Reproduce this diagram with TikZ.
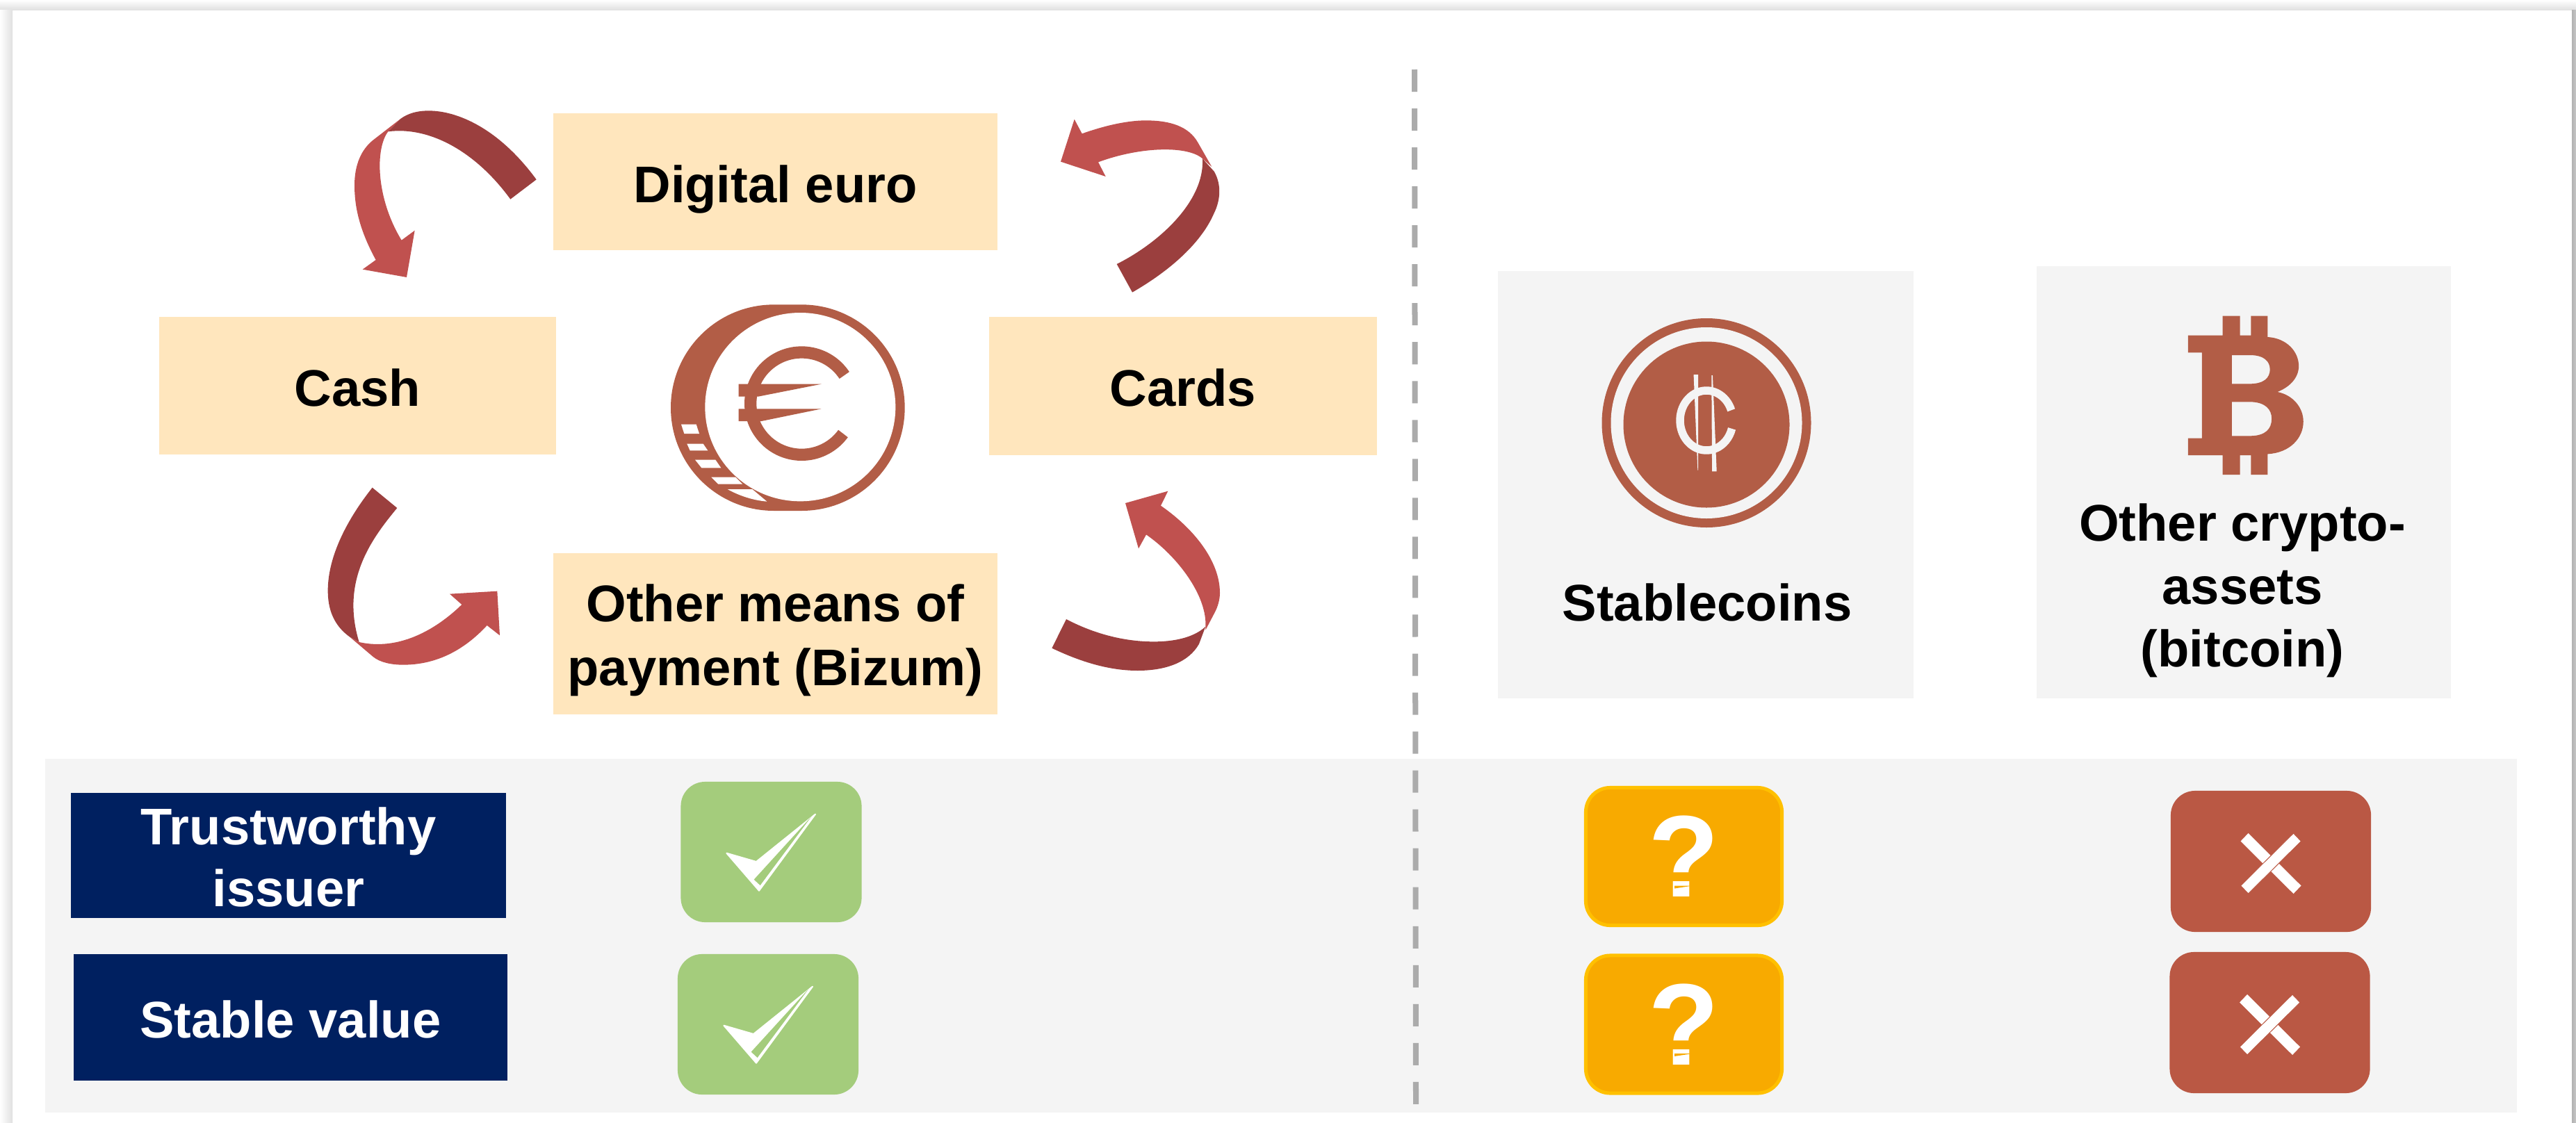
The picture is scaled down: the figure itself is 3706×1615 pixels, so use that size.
\documentclass[tikz,border=0pt]{standalone}
\usepackage{fontspec}
\setmainfont{Liberation Sans}
\definecolor{cream}{HTML}{FFE6BD}
\definecolor{panel}{HTML}{F4F4F4}
\definecolor{navy}{HTML}{002060}
\definecolor{okgreen}{HTML}{A4CC7C}
\definecolor{amber}{HTML}{F8AA00}
\definecolor{amberline}{HTML}{FFC000}
\definecolor{nogo}{HTML}{BA5844}
\definecolor{rust}{HTML}{B25D46}
\definecolor{arrowlight}{HTML}{C0514F}
\definecolor{arrowdark}{HTML}{9B3F3E}
\tikzset{
	means/.style={fill=cream,inner sep=0},
	plainlabel/.style={inner sep=0,align=center,font=\fontsize{21.1}{26.3}\selectfont\bfseries},
	criterion/.style={fill=navy,inner sep=0},
	whitelabel/.style={text=white,inner sep=0,align=center,font=\fontsize{21.1}{25.5}\selectfont\bfseries},
	okbox/.style={fill=okgreen,rounded corners=.35cm,minimum width=2.6cm,minimum height=2.02cm,inner sep=0},
	maybebox/.style={fill=amber,draw=amberline,line width=.05cm,rounded corners=.35cm,minimum width=2.82cm,minimum height=1.98cm,inner sep=0,text=white,font=\fontsize{47.5}{50}\selectfont\bfseries},
	nobox/.style={fill=nogo,rounded corners=.35cm,minimum width=2.88cm,minimum height=2.03cm,inner sep=0},
	cryptobox/.style={fill=panel,inner sep=0}
}
% tick inside a green box, #1,#2 is the corner of the box
\newcommand{\tickicon}[2]{
	\begin{scope}[shift={(#1,#2)},scale=1/3]
		\fill [white,draw=white,line width=.02cm,line join=round] (199,308) -- (327,345) -- (582,140) -- (339,470) -- cycle;
		\fill [okgreen] (317,422) -- (565,150) -- (344,447) -- cycle;
	\end{scope}
}
\begin{document}
\begin{tikzpicture}[x=.01cm,y=-.01cm]
	\useasboundingbox (0,0) rectangle (3706,1615);
	% window shadow
	\shade [top color=white,bottom color=black!12] (0,0) rectangle (3706,14);
	\shade [left color=white,right color=black!12] (0,14) rectangle (18,1615);
	\shade [left color=black!30,right color=black!22] (3700,14) rectangle (3706,1615);

	% means of payment
	\node [means,minimum width=6.39cm,minimum height=1.97cm] (digital) at (1115.5,261.5) {};
	\node [means,minimum width=5.71cm,minimum height=1.98cm] (cash) at (514.5,555) {};
	\node [means,minimum width=5.58cm,minimum height=1.99cm] (cards) at (1702,555.5) {};
	\node [means,minimum width=6.39cm,minimum height=2.32cm] (other) at (1115.5,912) {};
	\node [plainlabel] (digitallabel) at ([yshift=-.11cm]digital.center) {Digital euro};
	\node [plainlabel] (cashlabel) at ([yshift=-.025cm]cash.center) {Cash};
	\node [plainlabel] (cardslabel) at ([yshift=-.025cm]cards.center) {Cards};
	\node [plainlabel] (otherlabel) at ([yshift=-.095cm]other.center) {Other means of\\payment (Bizum)};

	% arrows
	\begin{scope}[shift={(400,100)},scale=1/3]
		\fill [arrowdark] (1115,475) .. controls (950,250) and (770,178) .. (650,178) .. controls (600,178) and (560,190) .. (530,212) -- (475,268) .. controls (650,245) and (850,350) .. (1003,560) -- cycle;
		\fill [arrowlight] (410,305) -- (530,212) -- (475,268) .. controls (420,340) and (420,550) .. (533,737) -- (590,695) -- (555,897) -- (365,863) -- (422,822) .. controls (350,690) and (330,590) .. (330,500) .. controls (330,410) and (360,345) .. (410,305) -- cycle;
	\end{scope}
	\begin{scope}[shift={(1400,100)},scale=1/3]
		\fill [arrowdark] (990,385) -- (1040,440) .. controls (1075,500) and (1065,570) .. (1040,620) .. controls (980,760) and (830,880) .. (687,962) -- (620,840) .. controls (800,750) and (1000,570) .. (990,385) -- cycle;
		\fill [arrowlight] (378,398) -- (437,215) -- (470,277) .. controls (560,245) and (660,220) .. (745,220) .. controls (850,220) and (930,245) .. (970,315) -- (1030,420) -- (990,385) .. controls (930,330) and (730,330) .. (540,400) -- (572,462) -- cycle;
	\end{scope}
	\begin{scope}[shift={(400,650)},scale=1/3]
		\fill [arrowdark] (407,155) -- (514,243) .. controls (400,380) and (270,560) .. (350,822) -- (310,800) .. controls (240,750) and (215,680) .. (215,600) .. controls (215,450) and (300,290) .. (407,155) -- cycle;
		\fill [arrowlight] (310,800) -- (410,885) .. controls (440,910) and (490,920) .. (540,920) .. controls (680,920) and (800,860) .. (902,750) -- (957,793) -- (946,602) -- (741,614) -- (793,660) .. controls (680,770) and (520,860) .. (350,822) -- cycle;
	\end{scope}
	\begin{scope}[shift={(1400,650)},scale=1/3]
		\fill [arrowdark] (402,723) -- (340,848) .. controls (480,915) and (600,945) .. (710,945) .. controls (830,945) and (930,910) .. (975,830) -- (1003,755) .. controls (950,805) and (860,820) .. (780,820) .. controls (650,820) and (520,785) .. (402,723) -- cycle;
		\fill [arrowlight] (657,222) -- (841,170) -- (810,233) .. controls (950,330) and (1065,470) .. (1065,610) .. controls (1065,640) and (1055,670) .. (1045,690) -- (1003,770) -- (1003,755) .. controls (1010,620) and (880,450) .. (747,358) -- (714,418) -- cycle;
	\end{scope}

	% coin
	\begin{scope}[shift={(920,400)},scale=1/3]
		\fill [rust] (580,115) -- (700,115) arc [start angle=-90,end angle=90,radius=445] -- (580,1005) arc [start angle=90,end angle=270,radius=445] -- cycle;
		\fill [white] (694,557) circle [x radius=411,y radius=407];
		\fill [white] (380,912) .. controls (430,940) and (490,960) .. (550,965) -- (487,912) -- cycle;
		\fill [white] (180,632) -- (245,632) -- (258,672) -- (193,672) -- cycle;
		\fill [white] (205,716) -- (275,716) -- (295,745) -- (218,745) -- cycle;
		\fill [white] (240,785) -- (328,785) -- (352,820) -- (268,820) -- cycle;
		\fill [white] (310,860) -- (415,860) -- (445,890) -- (340,890) -- cycle;
		\draw [rust,line width=.173cm] (700,542) ++(-33.5:221) arc [start angle=-33.5,end angle=-324,radius=221];
		\fill [rust] (428,458) -- (785,458) -- (512,512) -- (428,512) -- cycle;
		\fill [rust] (428,565) -- (785,565) -- (527,618) -- (428,618) -- cycle;
	\end{scope}

	% crypto side
	\node [cryptobox,minimum width=5.975cm,minimum height=6.15cm] (stable) at (2453.75,697.5) {};
	\node [cryptobox,minimum width=5.96cm,minimum height=6.22cm] (crypto) at (3228,694) {};
	\fill [rust] (2455,608.5) circle [radius=150.5];
	\fill [panel] (2455,608.5) circle [radius=137.5];
	\fill [rust] (2455,611) circle [radius=119.5];
	\draw [panel,line width=.115cm] (2455,605) ++(-20:38 and 43) arc [start angle=-20,end angle=-344,x radius=38,y radius=43];
	\begin{scope}[shift={(2250,420)},xscale=1/1.206,yscale=1/3]
		\fill [panel] (225,357) -- (233,357) -- (233,770) -- (232,770) -- cycle;
		\fill [panel] (256,360) -- (258,360) -- (265,775) -- (257,775) -- cycle;
		\fill [rust,even odd rule] (1083,188) -- (1143,188) -- (1143,104) -- (1173,104) -- (1173,188) -- (1192,188) -- (1192,104) -- (1221,104) -- (1221,195)
			.. controls (1255,200) and (1275,260) .. (1275,320) .. controls (1275,370) and (1260,410) .. (1238,432)
			.. controls (1265,445) and (1283,500) .. (1283,560) .. controls (1283,630) and (1260,695) .. (1221,700)
			-- (1221,789) -- (1192,789) -- (1192,705) -- (1173,705) -- (1173,789) -- (1143,789) -- (1143,705) -- (1083,705) -- (1083,632) -- (1107,632) -- (1107,262) -- (1083,262) -- cycle
			(1159,273) -- (1190,273) .. controls (1215,273) and (1225,300) .. (1225,335) .. controls (1225,370) and (1215,397) .. (1190,397) -- (1159,397) -- cycle
			(1159,475) -- (1190,475) .. controls (1218,475) and (1228,510) .. (1228,547) .. controls (1228,590) and (1218,622) .. (1190,622) -- (1159,622) -- cycle;
	\end{scope}
	\node [plainlabel] (stablelabel) at (2456,867) {Stablecoins};
	\node [plainlabel,font=\fontsize{21.1}{25.8}\selectfont\bfseries] (cryptolabel) at (3226,850) {Other crypto-\\assets\\(bitcoin)};

	% bottom band
	\node [fill=panel,inner sep=0,minimum width=35.54cm,minimum height=5.09cm] (band) at (1843,1346.5) {};
	\node [criterion,minimum width=6.26cm,minimum height=1.8cm] (trust) at (415,1231) {};
	\node [criterion,minimum width=6.24cm,minimum height=1.82cm] (value) at (418,1464) {};
	\node [whitelabel] (trustlabel) at ([yshift=-.025cm]trust.center) {Trustworthy\\issuer};
	\node [whitelabel] (valuelabel) at ([yshift=-.025cm]value.center) {Stable value};

	\node [okbox] (tick1) at (1109.5,1226) {};
	\node [okbox] (tick2) at (1105,1474) {};
	\tickicon{979}{1125}
	\tickicon{975}{1373}

	\node [maybebox] (maybe1) at (2422.5,1232.5) {?};
	\node [maybebox] (maybe2) at (2422.5,1474) {?};
	\foreach \dy in {0,241.5}
		\fill [amber] (2409,1274.5+\dy) -- (2435,1274.5+\dy) -- (2409,1278.5+\dy) -- cycle;

	\node [nobox] (no1) at (3267,1239.5) {};
	\node [nobox] (no2) at (3265.5,1471.5) {};
	\foreach \cx/\cy in {3266.5/1242.5,3265/1474.5} {
		\begin{scope}[shift={(\cx,\cy)}]
			\fill [white] (-32,-43.5) -- (-43,-32) -- (33,43.5) -- (44,32) -- cycle;
			\fill [white,draw=nogo,line width=.01cm] (33,-43.5) -- (44,-32) -- (-32,43.5) -- (-43,32) -- cycle;
		\end{scope}
	}

	% divider
	\coordinate (dashtop) at (2035,100);
	\coordinate (dashend) at (2037,1590);
	\draw [black!33,line width=.08cm,dash pattern=on .32cm off .24cm] (dashtop) -- (dashend);
\end{tikzpicture}
\end{document}
